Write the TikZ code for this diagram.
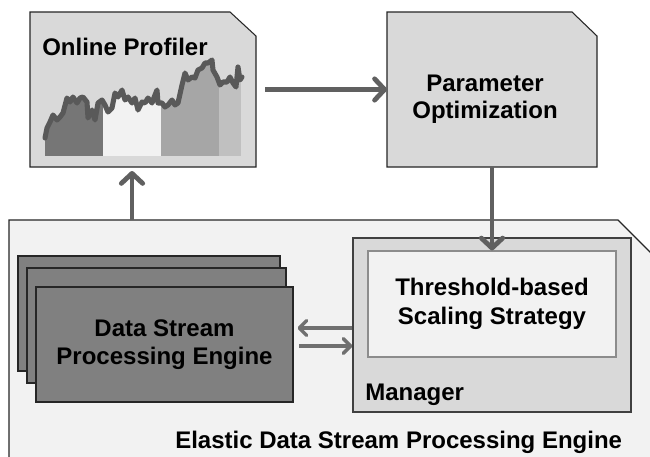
\documentclass[tikz,border=0pt]{standalone}
\usepackage{fontspec}
\setmainfont{Liberation Sans}
\usetikzlibrary{arrows.meta,calc}
\definecolor{boxgray}{HTML}{D9D9D9}
\definecolor{palegray}{HTML}{F2F2F2}
\definecolor{enggray}{HTML}{808080}
\definecolor{arrgray}{HTML}{606060}
\definecolor{linegray}{HTML}{595959}
\definecolor{segA}{HTML}{767676}
\definecolor{segB}{HTML}{F2F2F2}
\definecolor{segC}{HTML}{A6A6A6}
\definecolor{segD}{HTML}{C0C0C0}
\tikzset{
  lbl/.style={font=\bfseries\fontsize{18}{21}\selectfont, inner sep=0pt, text=black},
  anchorbox/.style={rectangle, draw=none, inner sep=0pt, outer sep=0pt},
  engbox/.style={rectangle, draw=black!85, line width=0.8pt, fill=enggray, inner sep=0pt, minimum width=#1, minimum height=86.25pt},
  bigarr/.style={draw=arrgray, line width=3.6pt, -{Straight Barb[length=7.5pt,width=16pt,round]}},
  smallarr/.style={draw=arrgray!90!white, line width=2.6pt, -{Straight Barb[length=5.5pt,width=11pt,round]}}
}
\begin{document}
\begin{tikzpicture}[x=0.75pt,y=-0.75pt]
\useasboundingbox (0,0) rectangle (650,457);
\fill[white] (0,0) rectangle (650,457);

% outer elastic box
\node[anchorbox, minimum width=518.25pt, minimum height=210pt] (el) at (354.5,360) {};
\begin{scope}
\clip (0,0) rectangle (650,457);
\draw[black!85, line width=0.8pt, fill=palegray] (el.south west) -- (el.north west) -- ($(el.north east)+(-82,0)$) -- ($(el.north east)+(0,82)$) -- (el.south east) -- cycle;
\end{scope}

% Online profiler box
\node[anchorbox, minimum width=169.5pt, minimum height=116.25pt] (op) at (143,89.5) {};
\draw[black!85, line width=0.8pt, fill=boxgray] (op.south west) -- (op.north west) -- ($(op.north east)+(-26,0)$) -- ($(op.north east)+(0,24)$) -- (op.south east) -- cycle;
\node[lbl, anchor=base west] (optitle) at (42,55) {Online Profiler};

% chart
\begin{scope}
\clip (45,156) -- (45,138) -- (47,128) -- (50,122) -- (53,115) -- (57,120) -- (60,117) -- (63,113) -- (67,98) -- (70,102) -- (73,97) -- (77,103) -- (80,98) -- (83,97) -- (87,102) -- (88,118) -- (92,110) -- (95,120) -- (98,103) -- (102,100) -- (105,105) -- (108,112) -- (112,108) -- (115,93) -- (118,97) -- (122,90) -- (125,100) -- (128,97) -- (132,103) -- (135,98) -- (138,110) -- (142,102) -- (145,103) -- (148,98) -- (152,103) -- (155,95) -- (157,90) -- (158,103) -- (162,103) -- (165,107) -- (168,105) -- (172,100) -- (175,105) -- (178,103) -- (182,85) -- (185,73) -- (188,80) -- (192,77) -- (195,78) -- (198,70) -- (202,68) -- (205,63) -- (208,63) -- (212,60) -- (213,70) -- (217,77) -- (220,85) -- (223,82) -- (227,82) -- (230,77) -- (233,83) -- (236,87) -- (238,67) -- (240,80) -- (241,77) -- (241,156) -- cycle;
\fill[segA] (45,40) rectangle (103,156);
\fill[segB] (103,40) rectangle (161,156);
\fill[segC] (161,40) rectangle (219,156);
\fill[segD] (219,40) rectangle (241,156);
\end{scope}
\draw[linegray, line width=3.8pt, line join=round, line cap=round] (45,138) -- (47,128) -- (50,122) -- (53,115) -- (57,120) -- (60,117) -- (63,113) -- (67,98) -- (70,102) -- (73,97) -- (77,103) -- (80,98) -- (83,97) -- (87,102) -- (88,118) -- (92,110) -- (95,120) -- (98,103) -- (102,100) -- (105,105) -- (108,112) -- (112,108) -- (115,93) -- (118,97) -- (122,90) -- (125,100) -- (128,97) -- (132,103) -- (135,98) -- (138,110) -- (142,102) -- (145,103) -- (148,98) -- (152,103) -- (155,95) -- (157,90) -- (158,103) -- (162,103) -- (165,107) -- (168,105) -- (172,100) -- (175,105) -- (178,103) -- (182,85) -- (185,73) -- (188,80) -- (192,77) -- (195,78) -- (198,70) -- (202,68) -- (205,63) -- (208,63) -- (212,60) -- (213,70) -- (217,77) -- (220,85) -- (223,82) -- (227,82) -- (230,77) -- (233,83) -- (236,87) -- (238,67) -- (240,80) -- (242,77);

% Parameter optimization box
\node[anchorbox, minimum width=157.5pt, minimum height=116.25pt] (po) at (492,89.5) {};
\draw[black!85, line width=0.8pt, fill=boxgray] (po.south west) -- (po.north west) -- ($(po.north east)+(-25,0)$) -- ($(po.north east)+(0,24)$) -- (po.south east) -- cycle;
\node[lbl, align=center, font=\bfseries\fontsize{18}{20}\selectfont] (potext) at (485,99) {Parameter\\Optimization};

% data stream processing engines
\node[engbox=196.5pt] (dsp3) at (149,313.5) {};
\node[engbox=194.25pt] (dsp2) at (156.5,325.5) {};
\node[engbox=192.75pt, align=center, font=\bfseries\fontsize{18}{21}\selectfont] (dsp) at (164.5,344.5) {Data Stream\\Processing Engine};

% manager
\node[rectangle, draw=black!75, line width=1pt, fill=boxgray, minimum width=208.5pt, minimum height=130.5pt, inner sep=0pt] (mgr) at (492,325) {};
\node[rectangle, draw=black!45, line width=0.8pt, fill=palegray, minimum width=186pt, minimum height=79.5pt, inner sep=0pt, align=center, font=\bfseries\fontsize{18}{22}\selectfont] (thr) at (492,304) {Threshold-based\\Scaling Strategy};
\node[lbl, anchor=base west] (mgrlbl) at (365,400) {Manager};

\node[lbl, anchor=base west] (ellbl) at (175,448) {Elastic Data Stream Processing Engine};

% connectors
\draw[bigarr, shorten <=7pt] (op) -- (po);
\draw[bigarr] (po) -- (thr);
\coordinate (upstart) at (132,220);
\draw[bigarr, shorten >=3pt] (upstart) -- (upstart |- op.south);
\coordinate (lefttail) at ($(mgr.west)+(0,3)$);
\draw[smallarr, shorten >=3pt] (lefttail) -- (lefttail -| dsp.east);
\coordinate (righttail) at ($(dsp.east)+(0,1.5)$);
\draw[smallarr, shorten <=4pt] (righttail) -- (righttail -| mgr.west);
\end{tikzpicture}
\end{document}
